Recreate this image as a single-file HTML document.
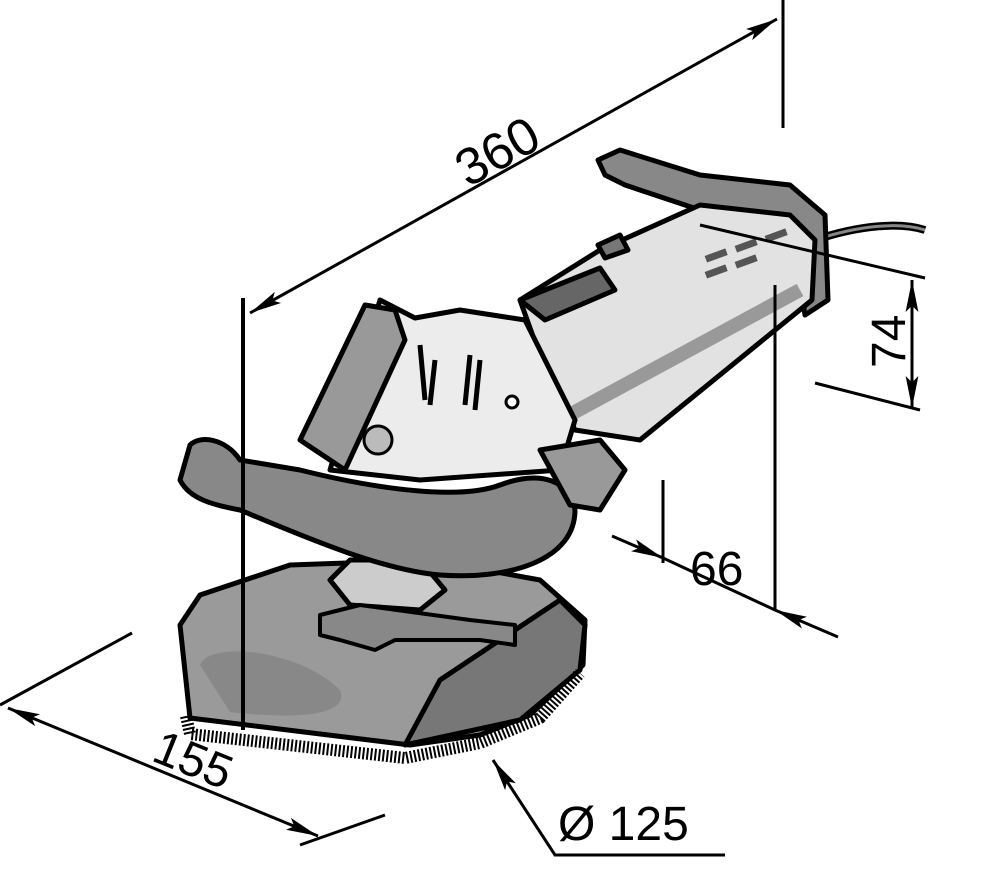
<!DOCTYPE html>
<html><head><meta charset="utf-8"><style>
html,body{margin:0;padding:0;background:#fff;}
svg{display:block;}
text{font-family:"Liberation Sans",sans-serif;fill:#000;}
</style></head><body>
<svg width="1000" height="870" viewBox="0 0 1000 870" xmlns="http://www.w3.org/2000/svg">
<defs>
<marker id="a" viewBox="0 0 30 12" refX="30" refY="6" markerWidth="32" markerHeight="13" orient="auto-start-reverse" markerUnits="userSpaceOnUse">
<path d="M0,0 L30,6 L0,12 L6,6 Z" fill="#000"/></marker>
</defs>
<g stroke="#000" stroke-width="5" stroke-linejoin="round">
<path d="M815,240 C860,225 900,222 925,230" fill="none" stroke-width="8"/>
<path d="M815,240 C860,225 900,222 925,230" fill="none" stroke="#888" stroke-width="3"/>
<path d="M598,160 L620,150 L700,175 L790,185 L825,215 L828,300 L805,315 L790,220 L700,210 L625,185 L605,175 Z" fill="#888"/>
<path d="M520,300 L600,250 L700,205 L790,215 L815,240 L812,300 L640,440 L575,430 L545,370 Z" fill="#e2e2e2"/>
<path d="M560,420 L800,290" stroke="#999" stroke-width="14" fill="none"/>
<g fill="#555" stroke="none">
<rect x="705" y="252" width="22" height="7" transform="rotate(-20 716 255)"/>
<rect x="735" y="242" width="22" height="7" transform="rotate(-20 746 245)"/>
<rect x="765" y="232" width="22" height="7" transform="rotate(-20 776 235)"/>
<rect x="705" y="268" width="22" height="7" transform="rotate(-20 716 271)"/>
<rect x="735" y="258" width="22" height="7" transform="rotate(-20 746 261)"/>
</g>
<path d="M520,300 L600,268 L615,290 L545,320 Z" fill="#666"/>
<path d="M598,245 L620,235 L628,250 L605,258 Z" fill="#777"/>
<!-- guard -->
<path d="M180,625 L200,595 L290,565 L430,560 L540,580 L585,620 L583,665 L530,715 L480,735 L410,745 L190,718 Z" fill="#9a9a9a"/>
<path d="M405,745 L440,680 L560,600 L585,625 L580,670 L520,720 Z" fill="#777"/>
<path d="M200,665 C210,640 300,650 340,690 C350,715 300,720 230,712 Z" fill="#888" stroke="none"/>
<path d="M186,716 L190,734 L405,758 L480,743 L540,718 L580,673" fill="none" stroke-width="12" stroke-dasharray="2 2"/>
<!-- gear head -->
<path d="M380,300 L415,318 L460,310 L525,320 L550,370 L575,420 L560,470 L420,480 L330,470 L350,400 Z" fill="#ececec"/>
<path d="M420,345 L425,400 M435,360 L430,405 M470,355 L465,405 M480,360 L475,410" fill="none" stroke-width="5"/>
<circle cx="512" cy="402" r="6" fill="#fff" stroke-width="3"/>
<circle cx="378" cy="440" r="14" fill="#bbb" stroke-width="3"/>
<path d="M300,440 L365,305 L395,310 L405,340 L345,470 Z" fill="#999"/>
<path d="M330,580 L350,560 L420,560 L445,590 L420,610 L350,605 Z" fill="#ccc"/>
<path d="M320,615 L360,605 L470,620 L515,625 L515,645 L480,640 L395,640 L375,650 L340,640 L320,635 Z" fill="#888" stroke-width="4"/>
<path d="M190,445 C200,435 225,438 240,460 L300,470 C380,490 460,500 500,485 C540,470 570,480 575,510 C575,560 510,580 440,575 C380,570 300,535 240,510 C215,505 190,500 180,480 Z" fill="#888"/>
<path d="M540,450 L600,440 L625,470 L600,510 L570,505 Z" fill="#999"/>
</g>
<g stroke="#000" stroke-width="3" fill="none">
<line x1="783" y1="0" x2="783" y2="128"/>
<line x1="243" y1="298" x2="243" y2="730" stroke-width="4"/>
<line x1="250" y1="313" x2="777" y2="19" marker-start="url(#a)" marker-end="url(#a)"/>
<line x1="700" y1="225" x2="925" y2="278"/>
<line x1="815" y1="383" x2="920" y2="410"/>
<line x1="912" y1="280" x2="912" y2="408" marker-start="url(#a)" marker-end="url(#a)"/>
<line x1="663" y1="480" x2="663" y2="563"/>
<line x1="775" y1="285" x2="775" y2="610"/>
<line x1="612" y1="536" x2="663" y2="558" marker-end="url(#a)"/>
<line x1="663" y1="558" x2="775" y2="610"/>
<line x1="838" y1="637" x2="775" y2="610" marker-end="url(#a)"/>
<line x1="0" y1="705" x2="132" y2="633"/>
<line x1="300" y1="845" x2="385" y2="815"/>
<line x1="8" y1="708" x2="318" y2="836" marker-start="url(#a)" marker-end="url(#a)"/>
<polyline points="725,855 555,855 493,760" marker-end="url(#a)"/>
</g>
<text x="0" y="0" font-size="52" transform="translate(468,188) rotate(-29)">360</text>
<text x="0" y="0" font-size="48" transform="translate(905,368) rotate(-90)">74</text>
<text x="690" y="585" font-size="48">66</text>
<text x="0" y="0" font-size="48" transform="translate(150,760) rotate(22)">155</text>
<text x="558" y="840" font-size="48">Ø 125</text>
</svg>
</body></html>
